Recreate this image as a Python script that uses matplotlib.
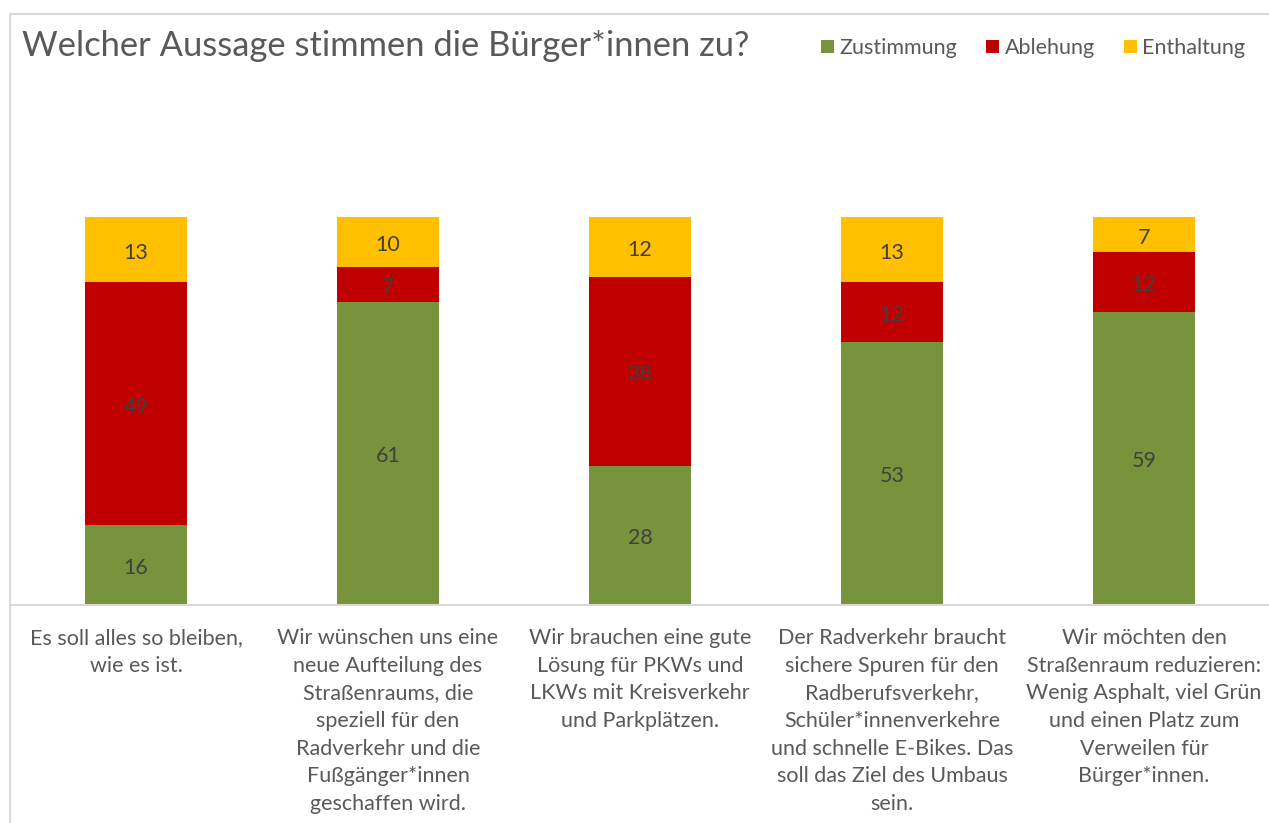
import matplotlib.pyplot as plt
from matplotlib.patches import Rectangle, Patch
import numpy as np

categories = [
    "Es soll alles so bleiben,\nwie es ist.",
    "Wir wünschen uns eine\nneue Aufteilung des\nStraßenraums, die\nspeziell für den\nRadverkehr und die\nFußgänger*innen\ngeschaffen wird.",
    "Wir brauchen eine gute\nLösung für PKWs und\nLKWs mit Kreisverkehr\nund Parkplätzen.",
    "Der Radverkehr braucht\nsichere Spuren für den\nRadberufsverkehr,\nSchüler*innenverkehre\nund schnelle E-Bikes. Das\nsoll das Ziel des Umbaus\nsein.",
    "Wir möchten den\nStraßenraum reduzieren:\nWenig Asphalt, viel Grün\nund einen Platz zum\nVerweilen für\nBürger*innen.",
]
zustimmung = [16, 61, 28, 53, 59]
ablehnung = [49, 7, 38, 12, 12]
enthaltung = [13, 10, 12, 13, 7]

series_names = ["Zustimmung", "Ablehung", "Enthaltung"]
colors = ["#77933C", "#C00000", "#FFC000"]
txt = "#595959"

plt.rcParams['font.family'] = ['Lato', 'DejaVu Sans']

W, H = 1269, 823
fig = plt.figure(figsize=(W / 100, H / 100), dpi=100)
ax = fig.add_axes([10 / W, (H - 605) / H, 1260 / W, (605 - 108) / H])

x = np.arange(len(categories))
bottom = np.zeros(len(categories))
for vals, c in zip([zustimmung, ablehnung, enthaltung], colors):
    vals = np.array(vals)
    ax.bar(x, vals, width=0.405, bottom=bottom, color=c, zorder=2)
    for xi, b, v in zip(x, bottom, vals):
        ax.annotate(str(v), xy=(xi, b + v / 2), xytext=(0, -3),
                    textcoords='offset pixels', ha='center', va='center',
                    fontsize=15.5, color="#404040")
    bottom += vals

ax.set_xlim(-0.5, len(categories) - 0.5)
ax.set_ylim(0, 100)
ax.set_yticks([])
ax.set_xticks([])
for s in ['top', 'right', 'left']:
    ax.spines[s].set_visible(False)
ax.spines['bottom'].set_color("#D9D9D9")
ax.spines['bottom'].set_linewidth(1.5)

for xi, lab in zip(x, categories):
    ax.annotate(lab, xy=(xi, 0), xycoords='data', xytext=(0, -23),
                textcoords='offset pixels', ha='center', va='top',
                fontsize=15.5, color=txt, linespacing=1.48)

fig.text(22 / W, (H - 46) / H, "Welcher Aussage stimmen die Bürger*innen zu?",
         fontsize=24.8, color=txt, va='center', ha='left')

handles = [Patch(facecolor=c, edgecolor='none') for c in colors]
fig.legend(handles, series_names, loc='center right',
           bbox_to_anchor=(1256 / W, (H - 48) / H), ncol=3, frameon=False,
           fontsize=15.5, labelcolor=txt, handlelength=0.6, handleheight=0.6,
           handletextpad=0.25, columnspacing=1.35, borderpad=0)

fig.patches.append(Rectangle((10 / W, -0.05), 1.1, (H - 14) / H + 0.05,
                             transform=fig.transFigure, fill=False,
                             edgecolor="#D9D9D9", linewidth=1.5))

fig.savefig("out.png", dpi=100)
